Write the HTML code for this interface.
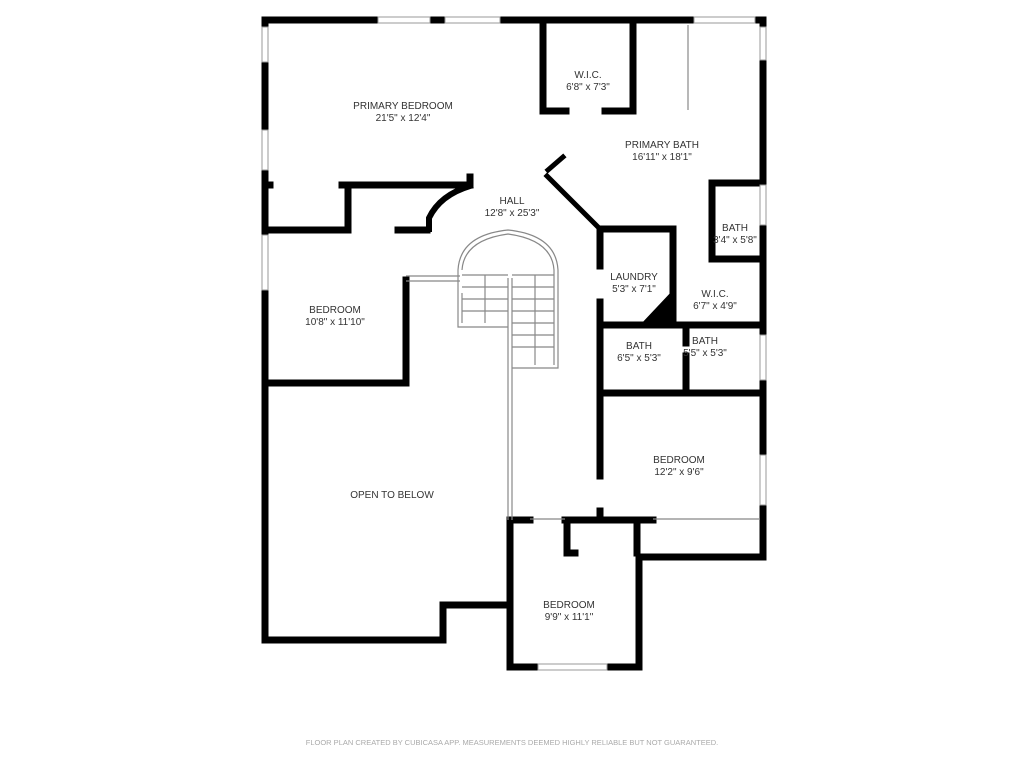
<!DOCTYPE html>
<html><head><style>
html,body{margin:0;padding:0;background:#fff;}
svg{display:block}
text{font-family:"Liberation Sans",sans-serif;font-size:10px;fill:#333;text-anchor:middle}
</style></head><body>
<svg width="1024" height="768" viewBox="0 0 1024 768" xmlns="http://www.w3.org/2000/svg">
<g stroke="#000" stroke-width="7" fill="none" stroke-linecap="square">
<path d="M265 20 H378 M430 20 H445 M500 20 H694 M755 20 H763 V27 M763 60 V185 M763 225 V335 M763 380 V455 M763 505 V557 H639 V667 H607 M538 667 H510 V520 M510 605 H443 V640 H265 V20"/>
<path d="M265 185 H270 M342 185 H470 V177 M348 185 V230 M265 230 H345 M398 230 H427"/>
<path d="M429 229 V218 Q440 195 470 186" stroke-width="6"/>
<path d="M406 280 V383 H265"/>
<path d="M543 20 V111 H566 M605 111 H633 V20"/>
<path d="M547 176 L600 229 M548 170 L563 157" stroke-width="5"/>
<path d="M600 229 H673 V325 M600 229 V266 M600 302 V393 M600 325 H763 M686 325 V343 M686 356 V393 M600 393 H763"/>
<path d="M712 183 H763 M712 183 V259 H763"/>
<path d="M600 393 V476 M600 511 V519 M565 520 H653 M514 520 H530 M567 520 V553 H575 M637 520 V553"/>
</g>
<polygon points="640,325 673,325 673,290" fill="#000"/>
<g stroke="#888" stroke-width="1.2" fill="none">
<path d="M688 25 V110"/>
<path d="M653 519 H760 M530 519 H565"/>
<path d="M508 278 V520 M512 278 V520"/>
<path d="M406 276 H460 M406 281 H460"/>
<path d="M458 290 V327 H508 M458 290 V270 Q460 235 508 230 Q556 235 558 270 V368 H512"/>
<path d="M462 293 V323 M462 270 Q464 240 508 234 Q552 240 554 270 V365"/>
<path d="M462 275 H508 M462 287 H508 M462 299 H508 M462 311 H508 M485 275 V323"/>
<path d="M512 275 H554 M512 287 H554 M512 299 H554 M512 311 H554 M512 323 H554 M512 335 H554 M512 347 H554 M535 275 V365"/>
</g>
<g stroke="#999" stroke-width="1" fill="#fff">
<rect x="378" y="17" width="52" height="6"/><rect x="445" y="17" width="55" height="6"/><rect x="694" y="17" width="61" height="6"/>
<rect x="262" y="27" width="6" height="35"/><rect x="262" y="130" width="6" height="40"/><rect x="262" y="235" width="6" height="55"/>
<rect x="760" y="27" width="6" height="33"/><rect x="760" y="185" width="6" height="40"/><rect x="760" y="335" width="6" height="45"/><rect x="760" y="455" width="6" height="50"/>
<rect x="538" y="664" width="69" height="6"/>
</g>
<text x="403" y="109">PRIMARY BEDROOM</text><text x="403" y="121">21'5" x 12'4"</text>
<text x="588" y="78">W.I.C.</text><text x="588" y="90">6'8" x 7'3"</text>
<text x="662" y="148">PRIMARY BATH</text><text x="662" y="160">16'11" x 18'1"</text>
<text x="512" y="204">HALL</text><text x="512" y="216">12'8" x 25'3"</text>
<text x="735" y="231">BATH</text><text x="735" y="243">3'4" x 5'8"</text>
<text x="634" y="280">LAUNDRY</text><text x="634" y="292">5'3" x 7'1"</text>
<text x="715" y="297">W.I.C.</text><text x="715" y="309">6'7" x 4'9"</text>
<text x="335" y="313">BEDROOM</text><text x="335" y="325">10'8" x 11'10"</text>
<text x="639" y="349">BATH</text><text x="639" y="361">6'5" x 5'3"</text>
<text x="705" y="344">BATH</text><text x="705" y="356">5'5" x 5'3"</text>
<text x="679" y="463">BEDROOM</text><text x="679" y="475">12'2" x 9'6"</text>
<text x="392" y="498">OPEN TO BELOW</text>
<text x="569" y="608">BEDROOM</text><text x="569" y="620">9'9" x 11'1"</text>
<text x="512" y="745" style="font-size:7.5px;fill:#aaa">FLOOR PLAN CREATED BY CUBICASA APP. MEASUREMENTS DEEMED HIGHLY RELIABLE BUT NOT GUARANTEED.</text>
</svg>
</body></html>
